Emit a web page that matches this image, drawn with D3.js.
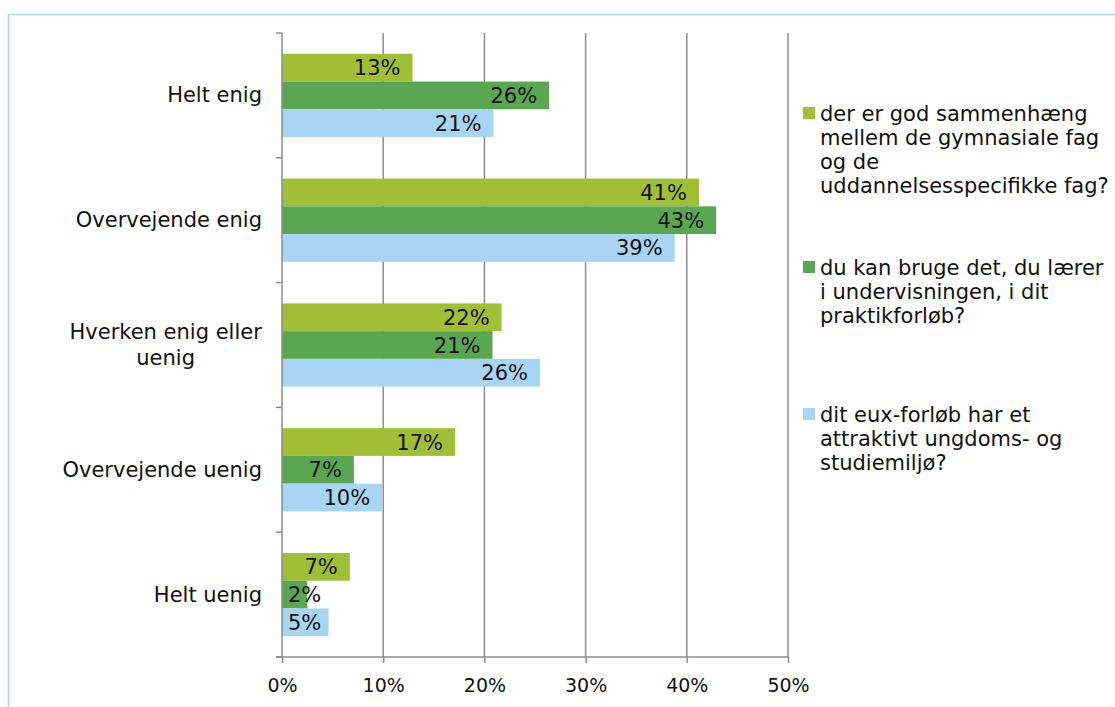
<!DOCTYPE html>
<html>
<head>
<meta charset="utf-8">
<script src="https://cdn.jsdelivr.net/npm/d3@7"></script>
<style>
  body { margin: 0; background: #fff; }
  svg { display: block; font-family: "DejaVu Sans", Verdana, sans-serif; }
</style>
</head>
<body>
<svg id="chart" width="1115" height="707"></svg>
<script>
// svarkategorier (y-akse)
var categories = [
    ["Helt enig"],
    ["Overvejende enig"],
    ["Hverken enig eller", "uenig"],
    ["Overvejende uenig"],
    ["Helt uenig"]
];

// serier, værdier i procent
var seriesNames = [
    ["der er god sammenhæng", "mellem de gymnasiale fag", "og de", "uddannelsesspecifikke fag?"],
    ["du kan bruge det, du lærer", "i undervisningen, i dit", "praktikforløb?"],
    ["dit eux-forløb har et", "attraktivt ungdoms- og", "studiemiljø?"]
];
var sammenhaeng = [12.9, 41.2, 21.7, 17.1, 6.7];
var praktik = [26.4, 42.9, 20.8, 7.1, 2.5];
var miljoe = [20.9, 38.8, 25.5, 9.9, 4.6];
var labels1 = ["13%", "41%", "22%", "17%", "7%"];
var labels2 = ["26%", "43%", "21%", "7%", "2%"];
var labels3 = ["21%", "39%", "26%", "10%", "5%"];

var xTicks = [0, 10, 20, 30, 40, 50];
var colors = ["#a1bf36", "#5ba652", "#a9d5f5"];

var svg = d3.select("#chart");
var margin = {top: 33, right: 327, bottom: 50, left: 282};
var width = +svg.attr("width");
var height = +svg.attr("height");

// ramme
svg.append("rect")
    .attr("x", 8.5)
    .attr("y", 14.5)
    .attr("width", 1200)
    .attr("height", 800)
    .attr("fill", "none")
    .attr("stroke", "#aed3ef")
    .attr("stroke-width", 1.5);

var x = d3.scaleLinear()
    .domain([0, 50])
    .range([margin.left, width - margin.right]);

var y = d3.scaleBand()
    .domain(d3.range(categories.length))
    .range([margin.top, height - margin.bottom])
    .paddingInner(0.333)
    .paddingOuter(0.1667);

var yStep = y.step();

var inner = d3.scaleBand()
    .domain([0, 1, 2])
    .range([0, y.bandwidth()]);

var series = [
    {values: sammenhaeng, labels: labels1},
    {values: praktik, labels: labels2},
    {values: miljoe, labels: labels3}
];

// gitterlinjer
svg.append("g")
    .selectAll("line")
    .data(xTicks.slice(1))
    .enter()
    .append("line")
    .attr("x1", function(d) { return x(d); })
    .attr("x2", function(d) { return x(d); })
    .attr("y1", margin.top)
    .attr("y2", height - margin.bottom)
    .attr("stroke", "#8c8c8c")
    .attr("stroke-width", 1.5);

// søjler
series.forEach(function(s, si) {
    var g = svg.append("g");
    g.selectAll("rect")
        .data(s.values)
        .enter()
        .append("rect")
        .attr("x", x(0))
        .attr("y", function(d, i) { return y(i) + inner(si); })
        .attr("width", function(d) { return x(d) - x(0); })
        .attr("height", inner.bandwidth())
        .attr("fill", colors[si]);
});

// x-akse
var xAxis = d3.axisBottom(x)
    .tickValues(xTicks)
    .tickFormat(function(d) { return d + "%"; })
    .tickSize(6);

var gx = svg.append("g")
    .attr("transform", "translate(0," + (height - margin.bottom) + ")")
    .call(xAxis);
gx.select(".domain").attr("stroke", "#8c8c8c").attr("stroke-width", 1.5)
    .attr("d", "M" + (x(0) - 6) + ",0H" + x(50));
gx.selectAll(".tick line").attr("stroke", "#8c8c8c").attr("stroke-width", 1.5);
gx.selectAll(".tick text")
    .attr("y", 35)
    .attr("dy", null)
    .attr("font-size", "19px")
    .attr("font-family", "DejaVu Sans, Verdana, sans-serif")
    .attr("fill", "#111");

// y-akse
var gy = svg.append("g");
gy.append("line")
    .attr("x1", x(0)).attr("x2", x(0))
    .attr("y1", margin.top).attr("y2", height - margin.bottom)
    .attr("stroke", "#8c8c8c").attr("stroke-width", 1.5);
gy.selectAll(".ytick")
    .data(d3.range(categories.length + 1))
    .enter()
    .append("line")
    .attr("x1", x(0) - 6).attr("x2", x(0))
    .attr("y1", function(i) { return margin.top + i * yStep; })
    .attr("y2", function(i) { return margin.top + i * yStep; })
    .attr("stroke", "#8c8c8c").attr("stroke-width", 1.5);

// kategorietiketter
categories.forEach(function(lines, i) {
    var cy = margin.top + (i + 0.5) * yStep;
    var t = svg.append("text")
        .attr("font-size", "21px")
        .attr("fill", "#111")
        .attr("text-anchor", "middle");
    lines.forEach(function(l, li) {
        t.append("tspan")
            .attr("x", 0)
            .attr("y", cy + 7 + (li - (lines.length - 1) / 2) * 26)
            .text(l);
    });
    var w = t.node().getBBox().width;
    t.attr("transform", "translate(" + (x(0) - 20 - w / 2) + ",0)");
});

// dataetiketter
series.forEach(function(s, si) {
    s.values.forEach(function(v, i) {
        var t = svg.append("text")
            .attr("font-size", "21px")
            .attr("fill", "#111")
            .attr("text-anchor", "end")
            .attr("y", y(i) + inner(si) + inner.bandwidth() / 2 + 7.5)
            .text(s.labels[i]);
        var w = t.node().getComputedTextLength();
        var tx = Math.max(x(v) - 12, x(0) + 6 + w);
        t.attr("x", tx);
    });
});

// forklaring
var legendY = [113, 267, 414];
var legend = svg.append("g");
seriesNames.forEach(function(lines, si) {
    legend.append("rect")
        .attr("x", 803)
        .attr("y", legendY[si] - 6)
        .attr("width", 12)
        .attr("height", 12)
        .attr("fill", colors[si]);
    var t = legend.append("text")
        .attr("font-size", "21px")
        .attr("fill", "#111");
    lines.forEach(function(l, li) {
        t.append("tspan")
            .attr("x", 820)
            .attr("y", legendY[si] + 7.5 + li * 24)
            .text(l);
    });
});
</script>
</body>
</html>
